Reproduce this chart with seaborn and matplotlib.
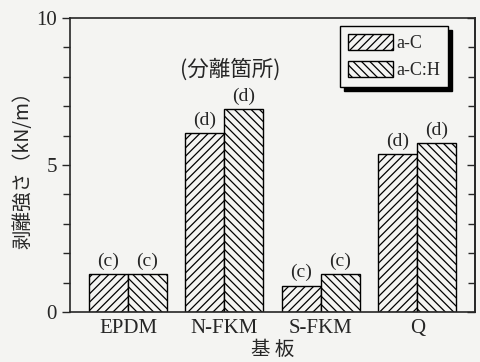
"""
Peel strength of a-C / a-C:H films on rubber substrates.
"""

import matplotlib
matplotlib.use("Agg")
import matplotlib.pyplot as plt
import pandas as pd
import seaborn as sns
from matplotlib.ticker import MultipleLocator

substrates = ["EPDM", "N-FKM", "S-FKM", "Q"]
films = ["a-C", "a-C:H"]
strength_ac = [1.3, 6.1, 0.9, 5.37]
strength_ach = [1.3, 6.9, 1.28, 5.75]
failure_ac = ["(c)", "(d)", "(c)", "(d)"]
failure_ach = ["(c)", "(d)", "(c)", "(d)"]

SERIF = ["Liberation Serif", "Noto Sans CJK JP"]
JP = ["Noto Sans CJK JP", "Liberation Serif"]
PAPER = "#f4f4f2"

df = pd.DataFrame({
    "substrate": substrates * 2,
    "strength": strength_ac + strength_ach,
    "film": [films[0]] * len(substrates) + [films[1]] * len(substrates),
})

sns.set_style("ticks")
plt.rcParams["font.family"] = SERIF
plt.rcParams["hatch.linewidth"] = 0.9

fig = plt.figure(figsize=(4.8, 3.62), dpi=100, facecolor=PAPER)
ax = fig.add_axes([0.146, 0.138, 0.844, 0.812])
ax.set_facecolor(PAPER)

sns.barplot(
    data=df, x="substrate", y="strength", hue="film",
    palette=[PAPER, PAPER], edgecolor="black", linewidth=1.0,
    width=0.81, ax=ax, legend=True,
)

hatches = ["////", "\\\\\\\\"]
for cont, h in zip(ax.containers, hatches):
    for bar in cont:
        bar.set_hatch(h)

for cont, labels in zip(ax.containers, [failure_ac, failure_ach]):
    ax.bar_label(cont, labels=labels, padding=3, fontsize=14)

ax.text(1.06, 8.25, "(分離箇所)", family=JP, fontsize=15.5, ha="center", va="center")

ax.set_ylim(0, 10)
ax.set_xlim(-0.6, 3.6)
ax.yaxis.set_major_locator(MultipleLocator(5))
ax.yaxis.set_minor_locator(MultipleLocator(1))
ax.tick_params(axis="y", which="both", direction="out", labelsize=15, width=1.0)
ax.tick_params(axis="y", which="major", length=6)
ax.tick_params(axis="y", which="minor", length=5)
ax.tick_params(axis="x", length=0, labelsize=15, pad=5)
for s in ax.spines.values():
    s.set_linewidth(1.2)
    s.set_visible(True)

# right axis: inward ticks, no labels
sec = ax.secondary_yaxis("right")
sec.yaxis.set_major_locator(MultipleLocator(5))
sec.yaxis.set_minor_locator(MultipleLocator(1))
sec.tick_params(which="both", direction="in", labelright=False, width=1.0)
sec.tick_params(which="major", length=6)
sec.tick_params(which="minor", length=5)
sec.spines["right"].set_linewidth(1.2)

ax.set_ylabel("剥離強さ（kN/m）", family=JP, fontsize=14, labelpad=2)
ax.set_xlabel("基 板", family=JP, fontsize=14, labelpad=1)

leg = ax.legend(
    loc="upper right", bbox_to_anchor=(0.933, 0.973), fontsize=13,
    frameon=True, fancybox=False,
    shadow={"color": "black", "alpha": 1.0, "ox": 3, "oy": -3},
    edgecolor="black",
    handlelength=2.5, handleheight=0.95, handletextpad=0.15,
    borderpad=0.45, labelspacing=0.5, borderaxespad=0.0,
)
leg.get_frame().set_facecolor(PAPER)
leg.get_frame().set_linewidth(1.0)
for handle, h in zip(leg.legend_handles, hatches):
    handle.set_hatch(h)
    handle.set_edgecolor("black")

fig.savefig("out.png", dpi=100, facecolor=PAPER)
